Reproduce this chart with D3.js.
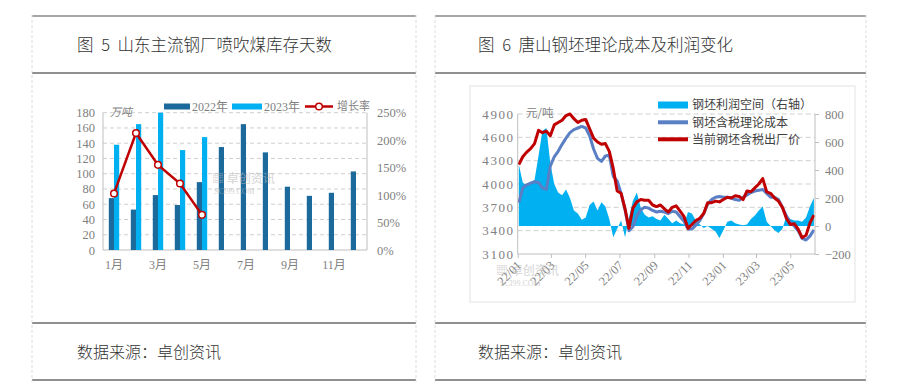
<!DOCTYPE html>
<html><head><meta charset="utf-8">
<script src="https://cdn.jsdelivr.net/npm/d3@7"></script>
<style>
html,body{margin:0;padding:0;background:#fff;}
svg{display:block;}
</style></head>
<body>
<svg id="c" width="913" height="390"></svg>
<script>
// ---------- Chart 5 data ----------
const months = ["1月","2月","3月","4月","5月","6月","7月","8月","9月","10月","11月","12月"];
const monthTickLabels = ["1月","3月","5月","7月","9月","11月"];
const stock2022 = [68,53,72,59,89,135,165,128,83,71,75,103];
const stock2023 = [138,165,180,131,148];
const growthRate = [103,213,155,121,64];
const leftTicks = [0,20,40,60,80,100,120,140,160,180];
const rightPctTicks = [0,50,100,150,200,250];

// ---------- Chart 6 data (weekly readings) ----------
const firstWeek = "2022-01-03";
const billetPrice = [4250,4350,4410,4455,4520,4690,4660,4680,4620,4760,4790,4820,4880,4900,4840,4790,4820,4830,4710,4590,
 4540,4510,4520,4420,4200,3910,3880,3680,3430,3690,3770,3800,3790,3790,3730,3710,3730,3680,3640,3700,
 3720,3650,3580,3430,3480,3530,3560,3620,3760,3760,3780,3770,3800,3830,3820,3850,3840,3800,3910,3900,
 3950,4000,4070,3900,3880,3820,3780,3700,3560,3480,3490,3420,3310,3340,3500,3600];
const billetCost = [3760,3950,3990,4010,4030,4020,3950,3930,4230,4350,4420,4510,4590,4660,4700,4720,4740,4720,4620,4450,
 4330,4290,4360,4370,4100,4040,3880,3670,3400,3450,3590,3670,3700,3690,3660,3640,3650,3640,3620,3650,
 3640,3580,3520,3420,3420,3470,3530,3620,3740,3800,3830,3840,3830,3830,3820,3800,3790,3830,3860,3890,
 3910,3920,3930,3880,3830,3830,3800,3700,3590,3510,3460,3400,3300,3280,3330,3410];
const billetProfit = [440,310,290,300,330,500,680,700,450,300,240,220,260,200,110,90,45,60,150,175,
 110,170,140,50,-80,-20,40,-80,60,180,240,130,80,60,70,50,40,80,50,20,
 40,20,10,100,90,40,10,-15,0,-20,-40,-85,-30,30,40,20,10,5,10,50,
 75,110,140,30,0,-30,-50,-20,70,50,40,40,30,60,140,200];
const priceTicks = [3100,3400,3700,4000,4300,4600,4900];
const profitTicks = [-200,0,200,400,600,800];
const dateTicks = ["2022-01-01","2022-03-01","2022-05-01","2022-07-01","2022-09-01","2022-11-01","2023-01-01","2023-03-01","2023-05-01"];

const svg = d3.select("#c");
const CJK = "'Noto Sans CJK SC','Noto Sans',sans-serif";
const SERIF = "'Liberation Serif','Noto Sans CJK SC',serif";

// ---------- frame ----------
const panels = [[32,416],[435,866]];
panels.forEach(([a,b])=>{
  svg.append("line").attr("x1",a).attr("x2",b).attr("y1",16).attr("y2",16).attr("stroke","#a6a6a6").attr("stroke-width",2);
  [73,323,380].forEach(y=>svg.append("line").attr("x1",a).attr("x2",b).attr("y1",y).attr("y2",y).attr("stroke","#6b6b6b").attr("stroke-width",1.5));
  [a,b].forEach(x=>svg.append("line").attr("x1",x).attr("x2",x).attr("y1",15).attr("y2",382).attr("stroke","#dcdcdc").attr("stroke-dasharray","3,2"));
});
const titles = [["图 5 山东主流钢厂喷吹煤库存天数",77],["图 6 唐山钢坯理论成本及利润变化",478]];
titles.forEach(([t,x])=>svg.append("text").attr("x",x).attr("y",45).attr("dy","0.35em").attr("font-family",CJK).attr("font-size",16.5).attr("font-weight",300).attr("word-spacing","4px").attr("fill","#333").text(t));
[77,478].forEach(x=>svg.append("text").attr("x",x).attr("y",352).attr("dy","0.35em").attr("font-family",CJK).attr("font-size",16).attr("font-weight",300).attr("fill","#333").text("数据来源：卓创资讯"));

// ---------- Chart 5 ----------
{
  const g = svg.append("g");
  const x = d3.scaleBand().domain(months).range([103,367]).padding(0);
  const y = d3.scaleLinear().domain([0,180]).range([250,112.7]);
  const yR = d3.scaleLinear().domain([0,250]).range([250,112.7]);
  const bw = 5.2;
  g.selectAll(".gl").data(leftTicks.slice(1)).join("line")
    .attr("x1",103).attr("x2",367).attr("y1",d=>y(d)).attr("y2",d=>y(d))
    .attr("stroke","#cfcfcf").attr("stroke-dasharray","4,3");
  g.append("line").attr("x1",103).attr("x2",103).attr("y1",112.7).attr("y2",250).attr("stroke","#bfbfbf");
  g.append("line").attr("x1",367).attr("x2",367).attr("y1",112.7).attr("y2",250).attr("stroke","#bfbfbf");
  g.append("line").attr("x1",103).attr("x2",367).attr("y1",250).attr("y2",250).attr("stroke","#bfbfbf");
  const ax = d3.axisLeft(y).tickValues(leftTicks).tickSize(0).tickPadding(8);
  const ga = g.append("g").attr("transform","translate(103,0)").call(ax);
  ga.select(".domain").remove();
  ga.selectAll("text").attr("font-family",SERIF).attr("font-size",12.5).attr("fill","#7f7f7f");
  const axR = d3.axisRight(yR).tickValues(rightPctTicks).tickFormat(d=>d+"%").tickSize(0).tickPadding(10);
  const gr = g.append("g").attr("transform","translate(367,0)").call(axR);
  gr.select(".domain").remove();
  gr.selectAll("text").attr("font-family",SERIF).attr("font-size",12.5).attr("fill","#7f7f7f");
  const axB = d3.axisBottom(x).tickValues(monthTickLabels).tickSize(0).tickPadding(10);
  const gb = g.append("g").attr("transform","translate(0,250)").call(axB);
  gb.select(".domain").remove();
  gb.selectAll("text").attr("font-family",SERIF).attr("font-size",12).attr("fill","#7f7f7f");
  const cx = m => x(m)+x.bandwidth()/2;
  g.selectAll(".b22").data(stock2022).join("rect")
    .attr("x",(d,i)=>cx(months[i])-bw).attr("width",bw)
    .attr("y",d=>y(d)).attr("height",d=>250-y(d)).attr("fill","#1b6a9b");
  g.selectAll(".b23").data(stock2023).join("rect")
    .attr("x",(d,i)=>cx(months[i])).attr("width",bw)
    .attr("y",d=>y(d)).attr("height",d=>250-y(d)).attr("fill","#00b0f0");
  g.append("text").attr("x",212).attr("y",183).attr("font-family",CJK).attr("font-size",12).attr("fill","#b8b8b8").attr("opacity",0.6).text("▦ 卓创资讯");
  g.append("text").attr("x",214).attr("y",194).attr("font-family",SERIF).attr("font-size",8).attr("fill","#b8b8b8").attr("opacity",0.6).text("SCI99.COM");
  const line = d3.line().x((d,i)=>cx(months[i])).y(d=>yR(d));
  g.append("path").datum(growthRate).attr("d",line).attr("fill","none").attr("stroke","#c00000").attr("stroke-width",2.5);
  g.selectAll(".pt").data(growthRate).join("circle")
    .attr("cx",(d,i)=>cx(months[i])).attr("cy",d=>yR(d)).attr("r",3.3)
    .attr("fill","#fff").attr("stroke","#c00000").attr("stroke-width",1.5);
  g.append("text").attr("x",110).attr("y",112).attr("dy","0.35em").attr("font-family",CJK).attr("font-size",11).attr("fill","#7f7f7f").attr("font-style","italic").text("万吨");
  const ly = 106.5;
  g.append("rect").attr("x",164).attr("y",ly-3).attr("width",26).attr("height",6).attr("fill","#1b6a9b");
  g.append("text").attr("x",192).attr("y",ly).attr("dy","0.35em").attr("font-family",SERIF).attr("font-size",12).attr("fill","#7f7f7f").text("2022年");
  g.append("rect").attr("x",232).attr("y",ly-3).attr("width",30).attr("height",6).attr("fill","#00b0f0");
  g.append("text").attr("x",264).attr("y",ly).attr("dy","0.35em").attr("font-family",SERIF).attr("font-size",12).attr("fill","#7f7f7f").text("2023年");
  g.append("line").attr("x1",305).attr("x2",333).attr("y1",ly).attr("y2",ly).attr("stroke","#c00000").attr("stroke-width",2.5);
  g.append("circle").attr("cx",319).attr("cy",ly).attr("r",3.3).attr("fill","#fff").attr("stroke","#c00000").attr("stroke-width",1.5);
  g.append("text").attr("x",337).attr("y",ly).attr("dy","0.35em").attr("font-family",CJK).attr("font-size",11).attr("fill","#7f7f7f").text("增长率");
}

// ---------- Chart 6 ----------
{
  const g = svg.append("g");
  g.append("rect").attr("x",470).attr("y",86).attr("width",385).attr("height",216)
    .attr("fill","none").attr("stroke","#ececec").attr("stroke-width",1.5);
  const start = d3.timeParse("%Y-%m-%d")(firstWeek);
  const dates = billetPrice.map((d,i)=>d3.timeDay.offset(start,7*i));
  const parse = d3.timeParse("%Y-%m-%d");
  const x = d3.scaleTime().domain([parse("2022-01-01"),parse("2023-06-14")]).range([517.7,815]);
  const y = d3.scaleLinear().domain([3100,4900]).range([254,114]);
  const yR = d3.scaleLinear().domain([-200,800]).range([254,114]);
  g.selectAll(".gl").data(priceTicks.slice(1)).join("line")
    .attr("x1",517.7).attr("x2",815).attr("y1",d=>y(d)).attr("y2",d=>y(d))
    .attr("stroke","#d0d0d0").attr("stroke-dasharray","5,3");
  const area = d3.area().x((d,i)=>x(dates[i])).y0(yR(0)).y1(d=>yR(d));
  g.append("path").datum(billetProfit).attr("d",area).attr("fill","#00b0f0");
  const lc = d3.line().x((d,i)=>x(dates[i])).y(d=>y(d));
  g.append("path").datum(billetCost).attr("d",lc).attr("fill","none").attr("stroke","#5a7fc4").attr("stroke-width",3).attr("stroke-linejoin","round");
  g.append("path").datum(billetPrice).attr("d",lc).attr("fill","none").attr("stroke","#c00000").attr("stroke-width",3).attr("stroke-linejoin","round");
  g.append("line").attr("x1",517.7).attr("x2",517.7).attr("y1",114).attr("y2",254).attr("stroke","#bfbfbf");
  g.append("line").attr("x1",815).attr("x2",815).attr("y1",114).attr("y2",254).attr("stroke","#bfbfbf");
  g.append("line").attr("x1",517.7).attr("x2",815).attr("y1",254).attr("y2",254).attr("stroke","#bfbfbf");
  const al = g.append("g").attr("transform","translate(517.7,0)").call(d3.axisLeft(y).tickValues(priceTicks).tickFormat(d3.format("d")).tickSize(0).tickPadding(3));
  al.select(".domain").remove();
  al.selectAll("text").attr("font-family",SERIF).attr("font-size",13).attr("letter-spacing","1.6px").attr("fill","#808080");
  const ar = g.append("g").attr("transform","translate(815,0)").call(d3.axisRight(yR).tickValues(profitTicks).tickFormat(d3.format("d")).tickSize(4).tickPadding(6));
  ar.select(".domain").remove();
  ar.selectAll("line").attr("stroke","#bfbfbf");
  ar.selectAll("text").attr("font-family",SERIF).attr("font-size",12.5).attr("fill","#808080");
  const ab = g.append("g").attr("transform","translate(0,254)")
    .call(d3.axisBottom(x).tickValues(dateTicks.map(parse)).tickSize(4).tickFormat(d3.timeFormat("%y/%m")));
  ab.select(".domain").remove();
  ab.selectAll("line").attr("stroke","#bfbfbf");
  ab.selectAll("text").attr("font-family",SERIF).attr("font-size",12.5).attr("fill","#808080")
    .attr("text-anchor","end").attr("dy","0.35em").attr("y",0)
    .attr("transform","translate(1,9) rotate(-45)");
  g.append("text").attr("x",526).attr("y",113).attr("dy","0.35em").attr("font-family",CJK).attr("font-size",11.5).attr("fill","#808080").text("元/吨");
  g.append("text").attr("x",496).attr("y",275).attr("font-family",CJK).attr("font-size",12).attr("fill","#b8b8b8").attr("opacity",0.6).text("▦ 卓创资讯");
  g.append("text").attr("x",500).attr("y",286).attr("font-family",SERIF).attr("font-size",8).attr("fill","#b8b8b8").attr("opacity",0.6).text("SCI99.COM");
  const lg = [["钢坯利润空间（右轴）",105,"rect"],["钢坯含税理论成本",122.3,"#5a7fc4"],["当前钢坯含税出厂价",139.3,"#c00000"]];
  lg.forEach(([t,yy,k])=>{
    if(k==="rect") g.append("rect").attr("x",658).attr("y",yy-3.5).attr("width",30).attr("height",7).attr("fill","#00b0f0");
    else g.append("line").attr("x1",658).attr("x2",688).attr("y1",yy).attr("y2",yy).attr("stroke",k).attr("stroke-width",4);
    g.append("text").attr("x",692).attr("y",yy).attr("dy","0.35em").attr("font-family",CJK).attr("font-size",12).attr("fill","#404040").text(t);
  });
}
</script>
</body></html>
